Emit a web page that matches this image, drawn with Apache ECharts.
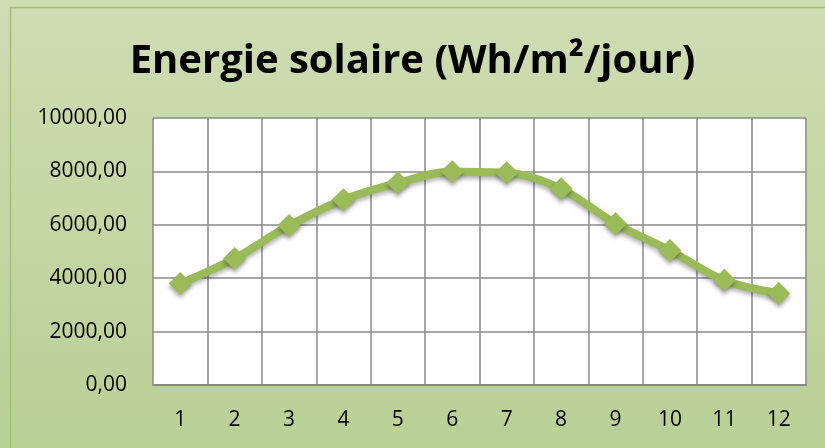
<!DOCTYPE html>
<html><head><meta charset="utf-8">
<script src="https://cdn.jsdelivr.net/npm/echarts@6/dist/echarts.min.js"></script>
<style>html,body{margin:0;padding:0;}#c{width:825px;height:448px;}</style>
</head><body><div id="c"></div>
<script>
const categories = ['1','2','3','4','5','6','7','8','9','10','11','12'];
const energy = [3800, 4740, 5970, 6940, 7570, 7990, 7950, 7350, 6040, 5040, 3920, 3430];
const yTicks = [0, 2000, 4000, 6000, 8000, 10000];

const chart = echarts.init(document.getElementById('c'));
chart.setOption({
  backgroundColor: {type:'linear', x:0, y:0, x2:0, y2:1, colorStops:[{offset:0,color:'#cfddb3'},{offset:1,color:'#b9d095'}]},
  graphic: [{type:'rect', left:8, top:5, shape:{width:830, height:460}, style:{fill:'none', stroke:'#9fc36a', lineWidth:1.5}, silent:true}],
  title: {text:'Energie solaire (Wh/m²/jour)', left:'center', top:37,
    textStyle:{fontFamily:'Open Sans', fontWeight:'bold', fontSize:40, color:'#000'}},
  grid: {left:153, right:19, top:118, bottom:63, show:true, backgroundColor:'#ffffff', borderWidth:0},
  xAxis: {type:'category', data:categories, boundaryGap:true,
    axisLine:{lineStyle:{color:'#8a8a8a', width:2}}, axisTick:{show:false},
    splitLine:{show:true, interval:0, lineStyle:{color:'#8a8a8a', width:1.5}},
    axisLabel:{color:'#000', fontFamily:'Open Sans', fontSize:21, margin:25, interval:0}},
  yAxis: {type:'value', min:0, max:10000, interval:2000,
    axisLine:{show:false}, axisTick:{show:false},
    splitLine:{lineStyle:{color:'#8a8a8a', width:1.5}},
    axisLabel:{color:'#000', fontFamily:'Open Sans', fontSize:21, margin:26,
      formatter: v => yTicks.includes(v) ? v.toFixed(2).replace('.', ',') : ''}},
  series: [{type:'line', data:energy, smooth:0.35, symbol:'diamond', symbolSize:23,
    lineStyle:{color:'#9bbb59', width:8, shadowColor:'rgba(0,0,0,0.3)', shadowBlur:4, shadowOffsetY:3},
    itemStyle:{color:'#9bbb59', shadowColor:'rgba(0,0,0,0.35)', shadowBlur:4, shadowOffsetY:3},
    animation:false}]
});
</script></body></html>
